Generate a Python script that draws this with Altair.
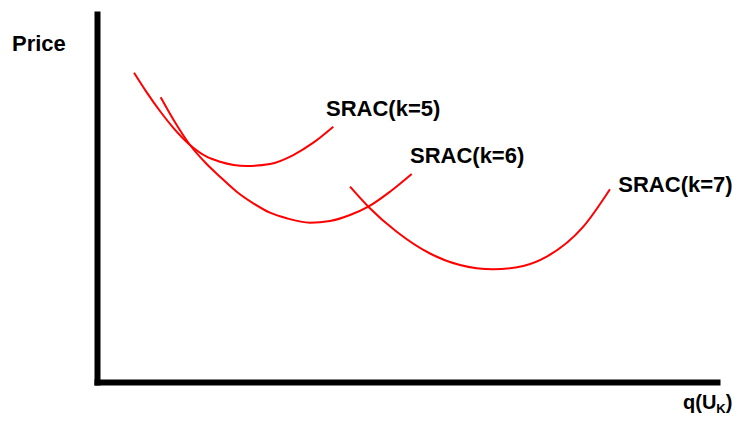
import altair as alt
import pandas as pd

# Curve points (q, price), in arbitrary units (0-100 axes)
k5_q = [5.97, 8.02, 10.27, 12.31, 15.0, 17.69, 19.84, 24.15, 27.90, 31.66, 34.89, 38.11]
k5_p = [84.05, 78.70, 73.37, 69.08, 64.40, 61.22, 59.86, 58.70, 59.24, 61.68, 65.03, 69.38]

k6_q = [10.27, 12.31, 15.0, 17.69, 19.84, 22.53, 25.21, 27.90, 30.60, 34.35, 37.58, 40.81, 43.76, 47.26, 50.76]
k6_p = [77.36, 71.33, 64.40, 59.24, 55.79, 51.71, 48.56, 46.01, 44.48, 43.29, 43.75, 45.38, 47.64, 51.71, 56.52]

k7_q = [40.81, 43.76, 48.34, 53.71, 58.55, 63.92, 68.76, 72.53, 78.44, 82.74]
k7_p = [53.07, 47.64, 40.84, 34.92, 31.79, 30.63, 31.52, 34.05, 42.20, 52.36]

series = ["SRAC(k=5)", "SRAC(k=6)", "SRAC(k=7)"]
label_q = [36.94, 50.48, 84.08]
label_p = [72.28, 59.59, 51.71]

rows = []
for name, qs, ps in zip(series, [k5_q, k6_q, k7_q], [k5_p, k6_p, k7_p]):
    for i, (q, p) in enumerate(zip(qs, ps)):
        rows.append({"curve": name, "order": i, "q": q, "price": p})
curves = pd.DataFrame(rows)

labels = pd.DataFrame({"text": series, "q": label_q, "price": label_p})

price_text = pd.DataFrame({"text": ["Price"], "q": [-13.71], "price": [89.95]})
qu_text = pd.DataFrame({"text": ["q(U", ")"], "q": [94.52, 101.40], "price": [-7.34, -7.34]})
sub_text = pd.DataFrame({"text": ["K"], "q": [99.89], "price": [-8.29]})

FONT = "Liberation Sans"

xscale = alt.Scale(domain=[0, 100], nice=False, zero=False)
yscale = alt.Scale(domain=[0, 100], nice=False, zero=False)
xaxis = alt.Axis(domain=True, domainColor="black", domainWidth=6, domainCap="square",
                 ticks=False, labels=False, grid=False, title=None)
yaxis = alt.Axis(domain=True, domainColor="black", domainWidth=6, domainCap="square",
                 ticks=False, labels=False, grid=False, title=None)

lines = alt.Chart(curves).mark_line(interpolate="monotone", strokeWidth=2).encode(
    x=alt.X("q:Q", scale=xscale, axis=xaxis),
    y=alt.Y("price:Q", scale=yscale, axis=yaxis),
    detail="curve:N",
    order="order:Q",
    color=alt.Color("curve:N", scale=alt.Scale(domain=series, range=["#ff0000"] * 3), legend=None),
)

def text_layer(df, size):
    return alt.Chart(df).mark_text(
        align="left", baseline="alphabetic", font=FONT, fontSize=size,
        fontWeight="bold", color="black"
    ).encode(x="q:Q", y="price:Q", text="text:N")

chart = alt.layer(
    lines,
    text_layer(labels, 22),
    text_layer(price_text, 22),
    text_layer(qu_text, 20),
    text_layer(sub_text, 13),
).properties(
    width=620,
    height=368,
    autosize=alt.AutoSizeParams(type="none"),
    padding={"left": 89, "top": 6, "right": 17, "bottom": 33},
    background="white",
).configure_view(stroke=None)

chart.save("out.html", embed_options={"renderer": "svg", "actions": False})
